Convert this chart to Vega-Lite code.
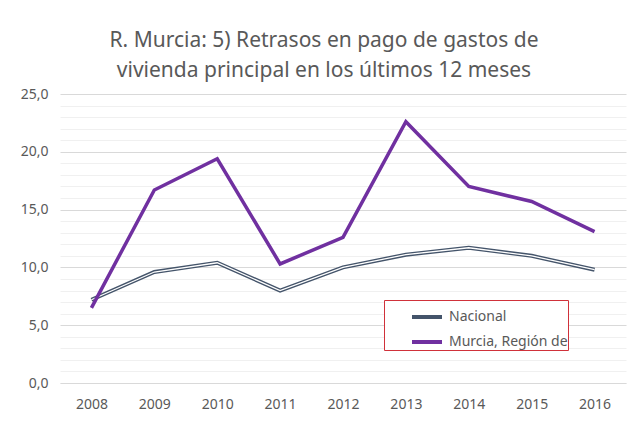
{
  "$schema": "https://vega.github.io/schema/vega-lite/v6.json",
  "width": 566,
  "height": 289,
  "autosize": {"type": "none"},
  "padding": {"left": 60, "top": 94, "right": 17, "bottom": 38},
  "background": "white",
  "title": {
    "text": ["R. Murcia: 5) Retrasos en pago de gastos de", "vivienda principal en los últimos 12 meses"],
    "font": "Noto Sans",
    "fontSize": 21,
    "fontWeight": "normal",
    "color": "#595959",
    "anchor": "middle",
    "dx": -19,
    "offset": 6,
    "lineHeight": 30
  },
  "config": {
    "view": {"stroke": null},
    "font": "Noto Sans"
  },
  "data": {
    "values": [
      {"year": "2008", "serie": "Nacional", "value": 7.2},
      {"year": "2009", "serie": "Nacional", "value": 9.6},
      {"year": "2010", "serie": "Nacional", "value": 10.4},
      {"year": "2011", "serie": "Nacional", "value": 8.0},
      {"year": "2012", "serie": "Nacional", "value": 10.0},
      {"year": "2013", "serie": "Nacional", "value": 11.1},
      {"year": "2014", "serie": "Nacional", "value": 11.7},
      {"year": "2015", "serie": "Nacional", "value": 11.0},
      {"year": "2016", "serie": "Nacional", "value": 9.8},
      {"year": "2008", "serie": "Murcia, Región de", "value": 6.5},
      {"year": "2009", "serie": "Murcia, Región de", "value": 16.7},
      {"year": "2010", "serie": "Murcia, Región de", "value": 19.4},
      {"year": "2011", "serie": "Murcia, Región de", "value": 10.3},
      {"year": "2012", "serie": "Murcia, Región de", "value": 12.6},
      {"year": "2013", "serie": "Murcia, Región de", "value": 22.6},
      {"year": "2014", "serie": "Murcia, Región de", "value": 17.0},
      {"year": "2015", "serie": "Murcia, Región de", "value": 15.7},
      {"year": "2016", "serie": "Murcia, Región de", "value": 13.1}
    ]
  },
  "encoding": {
    "x": {
      "field": "year",
      "type": "ordinal",
      "scale": {"type": "point", "padding": 0.5},
      "axis": {
        "title": null,
        "labelAngle": 0,
        "labelFont": "Noto Sans",
        "labelFontSize": 14,
        "labelColor": "#595959",
        "labelPadding": 14,
        "ticks": false,
        "domain": false,
        "grid": false
      }
    }
  },
  "layer": [
    {
      "mark": {"type": "rule", "opacity": 0},
      "encoding": {
        "y": {
          "field": "value",
          "type": "quantitative",
          "scale": {"domain": [0, 25], "nice": false, "zero": true},
          "axis": {
            "orient": "left",
            "title": null,
            "values": [0,1,2,3,4,6,7,8,9,11,12,13,14,16,17,18,19,21,22,23,24],
            "labels": false,
            "ticks": false,
            "domain": false,
            "grid": true,
            "gridColor": "#f0f0f0",
            "gridWidth": 1,
            "zindex": 0
          }
        }
      }
    },
    {
      "transform": [{"filter": "datum.serie === 'Nacional'"}],
      "mark": {"type": "line", "strokeWidth": 4, "strokeJoin": "miter"},
      "encoding": {
        "y": {
          "field": "value",
          "type": "quantitative",
          "axis": {
            "orient": "left",
            "title": null,
            "values": [0, 5, 10, 15, 20, 25],
            "labelExpr": "replace(format(datum.value, '.1f'), '.', ',')",
            "labelFont": "Noto Sans",
            "labelFontSize": 14,
            "labelColor": "#595959",
            "labelPadding": 12,
            "ticks": false,
            "domain": false,
            "grid": true,
            "gridColor": "#d9d9d9",
            "gridWidth": 1,
            "zindex": 0
          }
        },
        "color": {
          "field": "serie",
          "type": "nominal",
          "scale": {"domain": ["Nacional", "Murcia, Región de"], "range": ["#44546a", "#7030a0"]},
          "legend": {
            "title": null,
            "orient": "none",
            "legendX": 324,
            "legendY": 206,
            "symbolType": "stroke",
            "symbolStrokeWidth": 4,
            "symbolSize": 900,
            "symbolOffset": 26,
            "labelFont": "Noto Sans",
            "labelFontSize": 14,
            "labelColor": "#595959",
            "labelOffset": 5,
            "strokeColor": "#d0313a",
            "fillColor": "white",
            "padding": 0,
            "rowPadding": -4
          }
        }
      }
    },
    {
      "transform": [{"filter": "datum.serie === 'Nacional'"}],
      "mark": {"type": "line", "strokeWidth": 1.3, "color": "white", "strokeJoin": "miter"},
      "encoding": {
        "y": {"field": "value", "type": "quantitative", "axis": null}
      }
    },
    {
      "transform": [{"filter": "datum.serie === 'Murcia, Región de'"}],
      "mark": {"type": "line", "strokeWidth": 3.5, "strokeJoin": "miter"},
      "encoding": {
        "y": {"field": "value", "type": "quantitative", "axis": null},
        "color": {"field": "serie", "type": "nominal"}
      }
    }
  ],
  "resolve": {"axis": {"y": "independent"}}
}
